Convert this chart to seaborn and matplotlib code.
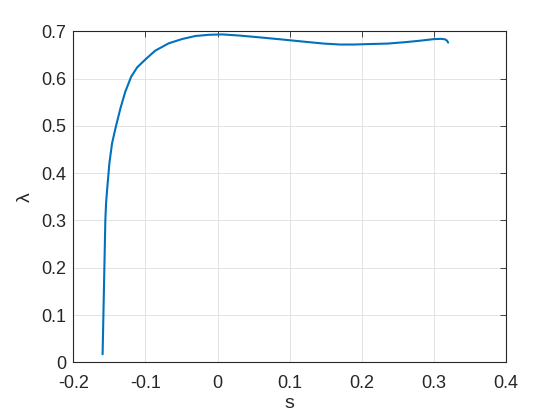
import numpy as np
import seaborn as sb
import pandas as pd
import matplotlib.pyplot as plt

# values
s_vals = [-0.1594, -0.1556, -0.1546, -0.1532, -0.1500, -0.1463, -0.1411, -0.1347,
          -0.1280, -0.1198, -0.1115, -0.1000, -0.0865, -0.0680, -0.0495, -0.0310,
          -0.0121, 0.0065, 0.0300, 0.0593, 0.0871, 0.1200, 0.1472, 0.1700,
          0.1889, 0.2100, 0.2353, 0.2600, 0.2800, 0.3000, 0.3100, 0.3153,
          0.3180, 0.3195]
lam_vals = [0.017, 0.300, 0.336, 0.364, 0.421, 0.463, 0.498, 0.537,
            0.572, 0.604, 0.6237, 0.6406, 0.659, 0.6744, 0.6835, 0.690,
            0.6926, 0.6934, 0.691, 0.687, 0.683, 0.678, 0.674, 0.672,
            0.672, 0.673, 0.674, 0.677, 0.680, 0.6835, 0.684, 0.683,
            0.680, 0.676]
x_ticks = [-0.2, -0.1, 0, 0.1, 0.2, 0.3, 0.4]
y_ticks = [0, 0.1, 0.2, 0.3, 0.4, 0.5, 0.6, 0.7]

df = pd.DataFrame({'s': s_vals, 'lam': lam_vals})

sb.set_style('white')
plt.rcParams['font.family'] = ['Liberation Sans', 'DejaVu Sans']

fig = plt.figure(figsize=(5.6, 4.2), dpi=100)
ax = fig.add_axes([0.1309, 0.1374, 0.7731, 0.7881])

sb.lineplot(data=df, x='s', y='lam', sort=False, estimator=None,
            color='#0072BD', linewidth=1.5, ax=ax)

ax.set_xlim(-0.2, 0.4)
ax.set_ylim(0, 0.7)
ax.set_xticks(x_ticks)
ax.set_xticklabels(['-0.2', '-0.1', '0', '0.1', '0.2', '0.3', '0.4'])
ax.set_yticks(y_ticks)
ax.set_yticklabels(['0', '0.1', '0.2', '0.3', '0.4', '0.5', '0.6', '0.7'])
ax.grid(True, color='#DEDEDE', linewidth=0.6)
ax.set_axisbelow(True)
ax.tick_params(direction='in', length=4, width=0.6, colors='#262626',
               labelsize=13, top=True, right=True)
ax.tick_params(axis='x', pad=9)
ax.tick_params(axis='y', pad=5)
for sp in ax.spines.values():
    sp.set_color('#262626')
    sp.set_linewidth(0.8)
    sp.set_visible(True)
ax.set_xlabel('s', fontsize=14, color='#262626', labelpad=2)
ax.set_ylabel('λ', fontsize=14, color='#262626', labelpad=5)

fig.savefig('out.png', dpi=100)
